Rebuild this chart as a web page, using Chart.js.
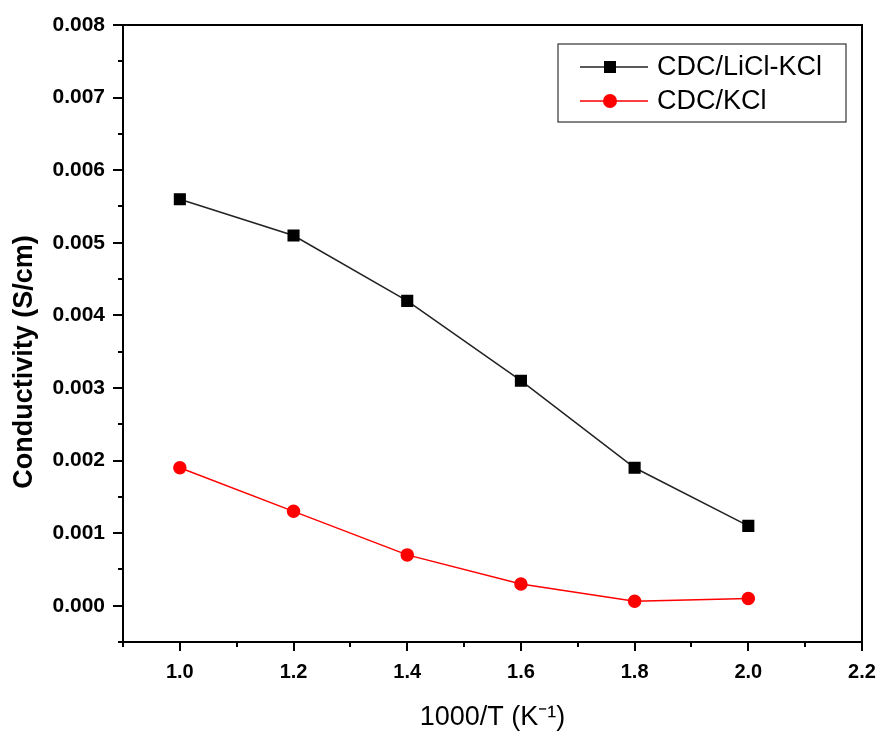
<!DOCTYPE html>
<html>
<head>
<meta charset="utf-8">
<script src="https://cdn.jsdelivr.net/npm/chart.js@4/dist/chart.umd.min.js"></script>
<style>
  body { margin: 0; background: #fff; }
</style>
</head>
<body>
<canvas id="myChart" width="878" height="734"></canvas>
<script>
// data
var xValues = [1.0, 1.2, 1.4, 1.6, 1.8, 2.0];
var liclKcl = [0.0056, 0.0051, 0.0042, 0.0031, 0.0019, 0.0011];
var kcl = [0.0019, 0.0013, 0.0007, 0.0003, 0.00006, 0.0001];
var seriesNames = ["CDC/LiCl-KCl", "CDC/KCl"];
var yTitle = "Conductivity (S/cm)";

var FONT = "'Liberation Sans', Arial, sans-serif";

function toPoints(ys) {
  return xValues.map(function(x, i) { return { x: x, y: ys[i] }; });
}

function isMajorY(v) { return Math.abs(Math.round(v * 2000)) % 2 === 0; }
function isMajorX(v) { return Math.round(v * 10) % 2 === 0; }

// top/right frame, short minor ticks, y title, boxed legend
var framePlugin = {
  id: "frame",
  afterDraw: function(chart) {
    var ctx = chart.ctx;
    var a = chart.chartArea;
    ctx.save();
    ctx.strokeStyle = "#000";
    ctx.lineWidth = 2;
    ctx.beginPath();
    ctx.moveTo(a.left, a.top);
    ctx.lineTo(a.right, a.top);
    ctx.lineTo(a.right, a.bottom);
    ctx.stroke();

    // minor ticks
    var ys = chart.scales.y, xs = chart.scales.x;
    ctx.beginPath();
    ys.ticks.forEach(function(t) {
      if (!isMajorY(t.value)) {
        var py = Math.round(ys.getPixelForValue(t.value));
        ctx.moveTo(a.left, py);
        ctx.lineTo(a.left - 5, py);
      }
    });
    xs.ticks.forEach(function(t) {
      if (!isMajorX(t.value)) {
        var px = Math.round(xs.getPixelForValue(t.value));
        ctx.moveTo(px, a.bottom);
        ctx.lineTo(px, a.bottom + 5);
      }
    });
    ctx.stroke();

    // y axis title (sits a bit below the axis centre in the original)
    ctx.save();
    ctx.translate(25, 362);
    ctx.rotate(-Math.PI / 2);
    ctx.fillStyle = "#000";
    ctx.font = "bold 27px " + FONT;
    ctx.textAlign = "center";
    ctx.textBaseline = "middle";
    ctx.fillText(yTitle, 0, 0);
    ctx.restore();

    // legend box
    var bx = 558, by = 44, bw = 288, bh = 78;
    ctx.lineWidth = 1.2;
    ctx.strokeStyle = "#333";
    ctx.strokeRect(bx, by, bw, bh);
    chart.data.datasets.forEach(function(ds, i) {
      var cy = 67 + i * 34;
      ctx.strokeStyle = ds.borderColor;
      ctx.lineWidth = 1.5;
      ctx.beginPath();
      ctx.moveTo(580, cy);
      ctx.lineTo(648, cy);
      ctx.stroke();
      ctx.fillStyle = ds.pointBackgroundColor;
      if (ds.pointStyle === "rect") {
        ctx.fillRect(604, cy - 6, 12, 12);
      } else {
        ctx.beginPath();
        ctx.arc(610, cy, 7, 0, Math.PI * 2);
        ctx.fill();
      }
      ctx.fillStyle = "#000";
      ctx.font = "27px " + FONT;
      ctx.textBaseline = "middle";
      ctx.fillText(ds.label, 657, cy + 1);
    });
    ctx.restore();
  }
};

var ctx = document.getElementById("myChart").getContext("2d");
var chart = new Chart(ctx, {
  type: "line",
  data: {
    datasets: [
      {
        label: seriesNames[0],
        data: toPoints(liclKcl),
        borderColor: "#222",
        borderWidth: 1.5,
        pointStyle: "rect",
        pointRadius: 7.5,
        pointBackgroundColor: "#000",
        pointBorderColor: "#000",
        tension: 0
      },
      {
        label: seriesNames[1],
        data: toPoints(kcl),
        borderColor: "#ff0000",
        borderWidth: 1.5,
        pointStyle: "circle",
        pointRadius: 6,
        pointBackgroundColor: "#ff0000",
        pointBorderColor: "#ff0000",
        tension: 0
      }
    ]
  },
  options: {
    responsive: false,
    animation: false,
    layout: { padding: { left: 8, right: 16, top: 25, bottom: 0 } },
    plugins: {
      legend: { display: false },
      tooltip: { enabled: false }
    },
    scales: {
      x: {
        type: "linear",
        min: 0.9,
        max: 2.2,
        afterFit: function(scale) {
          scale.height = 92;
          // keep the "2.2" overhang from shrinking the plot
          scale.paddingLeft = 0;
          scale.paddingRight = 0;
        },
        border: { display: true, color: "#000", width: 2 },
        grid: {
          drawOnChartArea: false,
          tickLength: 9,
          lineWidth: 2,
          tickColor: function(c) {
            return c.tick && isMajorX(c.tick.value) ? "#000" : "rgba(0,0,0,0)";
          }
        },
        ticks: {
          stepSize: 0.1,
          autoSkip: false,
          maxRotation: 0,
          padding: 9,
          color: "#000",
          font: { family: FONT, size: 20, weight: "bold" },
          callback: function(v) { return isMajorX(v) ? v.toFixed(1) : ""; }
        },
        title: {
          display: true,
          text: "1000/T (K\u207B\u00B9)",
          color: "#000",
          font: { family: FONT, size: 27 },
          padding: { top: 8, bottom: 0 }
        }
      },
      y: {
        min: -0.0005,
        max: 0.008,
        afterFit: function(scale) { scale.width = 115; },
        border: { display: true, color: "#000", width: 2 },
        grid: {
          drawOnChartArea: false,
          tickLength: 10,
          lineWidth: 2,
          tickColor: function(c) {
            return c.tick && isMajorY(c.tick.value) ? "#000" : "rgba(0,0,0,0)";
          }
        },
        ticks: {
          stepSize: 0.0005,
          autoSkip: false,
          padding: 8,
          color: "#000",
          font: { family: FONT, size: 21, weight: "bold" },
          callback: function(v) { return isMajorY(v) ? v.toFixed(3) : ""; }
        }
      }
    }
  },
  plugins: [framePlugin]
});
</script>
</body>
</html>
